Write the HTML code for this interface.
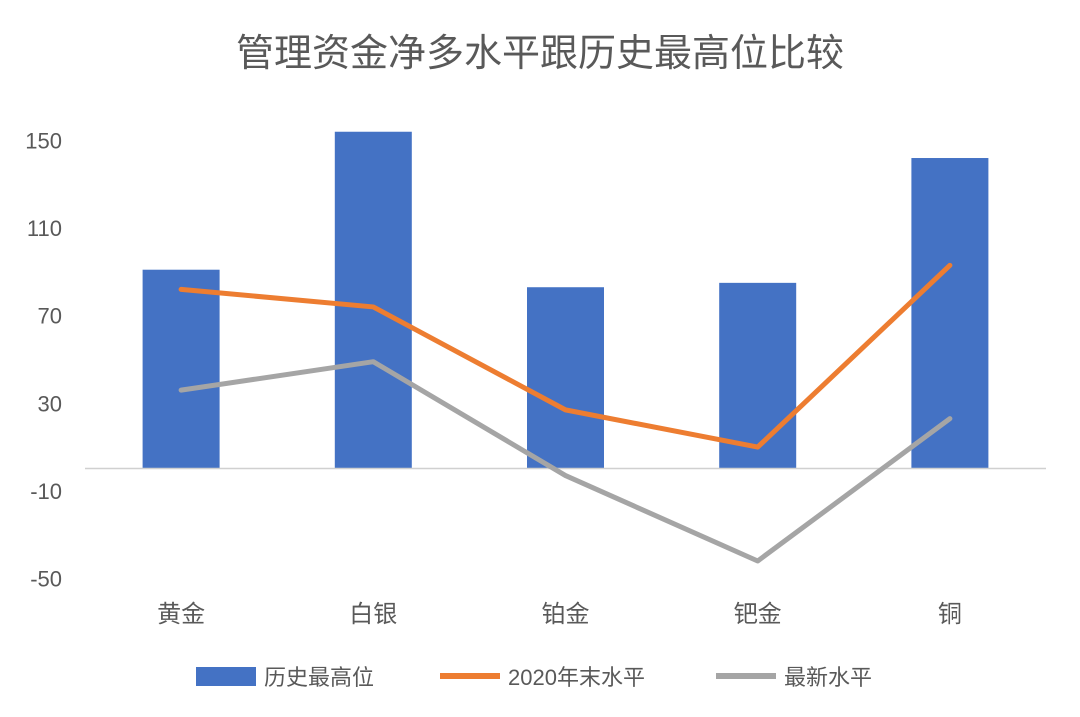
<!DOCTYPE html>
<html><head><meta charset="utf-8">
<style>
body{margin:0;background:#fff;}
svg{display:block;font-family:"Liberation Sans","Noto Sans CJK SC",sans-serif;}
</style></head>
<body>
<svg id="chart" width="1080" height="717" viewBox="0 0 1080 717">
<text x="540" y="66" text-anchor="middle" font-size="38" fill="#595959">管理资金净多水平跟历史最高位比较</text>
<g id="yaxis"></g>
<g id="bars"></g>
<line x1="85" x2="1046" y1="468.5" y2="468.5" stroke="#d0d0d0" stroke-width="1.5"/>
<g id="lines"></g>
<g id="xaxis"></g>
<g>
  <g>
    <rect x="196" y="667" width="60" height="19" fill="#4472c4"/>
    <text x="264" y="685" font-size="22" fill="#595959">历史最高位</text>
  </g>
  <g>
    <line x1="440" x2="500" y1="676" y2="676" stroke="#ed7d31" stroke-width="6"/>
    <text x="508" y="685" font-size="22" fill="#595959">2020年末水平</text>
  </g>
  <g>
    <line x1="716" x2="776" y1="676" y2="676" stroke="#a5a5a5" stroke-width="6"/>
    <text x="784" y="685" font-size="22" fill="#595959">最新水平</text>
  </g>
</g>
</svg>
<script>
const categories = ["黄金","白银","铂金","钯金","铜"];
const historicalHigh = [91,154,83,85,142];
const end2020 = [82,74,27,10,93];
const latest = [36,49,-3,-42,23];
const yTicks = [150,110,70,30,-10,-50];
const yTickLabels = ["150","110","70","30","-10","-50"];

const NS="http://www.w3.org/2000/svg";
const plotLeft=85, plotRight=1046;
const band=(plotRight-plotLeft)/categories.length;
function xScale(i){return plotLeft+band*(i+0.5);}
function yScale(v){return 469 - v*2.19;}
function mk(tag,attrs,parent){const e=document.createElementNS(NS,tag);for(const k in attrs)e.setAttribute(k,attrs[k]);parent.appendChild(e);return e;}

const yg=document.getElementById('yaxis');
yTicks.forEach((t,i)=>{
  const e=mk('text',{x:62,y:yScale(t)+8,'text-anchor':'end','font-size':22,fill:'#595959'},yg);
  
  
  e.textContent=yTickLabels[i];
});
const bg=document.getElementById('bars');
const bw=77;
historicalHigh.forEach((v,i)=>{
  const y0=yScale(0), y1=yScale(v);
  const r=mk('rect',{x:xScale(i)-bw/2,y:Math.min(y0,y1),width:bw,height:Math.abs(y0-y1),fill:'#4472c4'},bg);
  
  
});
const lg=document.getElementById('lines');
[[end2020,'#ed7d31','line-2020-end'],[latest,'#a5a5a5','line-latest']].forEach(([arr,c,n])=>{
  const p=mk('polyline',{points:arr.map((v,i)=>xScale(i)+','+yScale(v)).join(' '),fill:'none',stroke:c,'stroke-width':5,'stroke-linejoin':'round','stroke-linecap':'round'},lg);
  
  
});
const xg=document.getElementById('xaxis');
categories.forEach((c,i)=>{
  const e=mk('text',{x:xScale(i),y:622,'text-anchor':'middle','font-size':24,fill:'#595959'},xg);
  
  
  e.textContent=c;
});
</script>
</body></html>
